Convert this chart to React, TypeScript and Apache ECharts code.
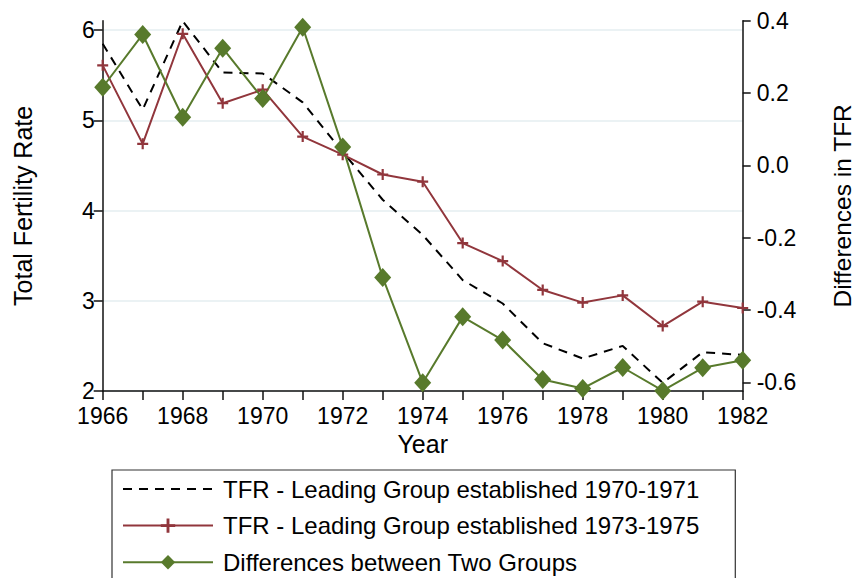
import React, { useEffect, useRef } from "react";
import * as echarts from "echarts";

const years = [1966, 1967, 1968, 1969, 1970, 1971, 1972, 1973, 1974, 1975, 1976, 1977, 1978, 1979, 1980, 1981, 1982];
const tfrEarly = [5.85, 5.12, 6.1, 5.53, 5.52, 5.2, 4.65, 4.12, 3.73, 3.23, 2.97, 2.53, 2.36, 2.5, 2.09, 2.43, 2.4];
const tfrLate = [5.61, 4.74, 5.96, 5.19, 5.34, 4.82, 4.62, 4.4, 4.32, 3.64, 3.44, 3.12, 2.98, 3.06, 2.72, 2.99, 2.92];
const diffs = [0.216, 0.362, 0.133, 0.324, 0.185, 0.382, 0.051, -0.31, -0.601, -0.419, -0.483, -0.592, -0.617, -0.559, -0.623, -0.56, -0.539];
const leftTicks = [2, 3, 4, 5, 6];
const rightTicks = [-0.6, -0.4, -0.2, 0, 0.2, 0.4];
const xLabelYears = [1966, 1968, 1970, 1972, 1974, 1976, 1978, 1980, 1982];
const names = [
  "TFR - Leading Group established 1970-1971",
  "TFR - Leading Group established 1973-1975",
  "Differences between Two Groups",
];

const FONT = "'Liberation Sans', Arial, Helvetica, sans-serif";
const RED = "#91363c";
const GREEN = "#587a2c";
const PLUS = "path://M4,0H6V10H4Z M0,4H10V6H0Z";

export default function App() {
  const ref = useRef<HTMLDivElement>(null);
  useEffect(() => {
    if (!ref.current) return;
    const chart = echarts.init(ref.current, null, { renderer: "svg" });
    const axisLine = { show: true, onZero: false, lineStyle: { color: "#111", width: 1.5 } };
    const tick = { show: true, length: 9, lineStyle: { color: "#111", width: 1.5 } };
    chart.setOption({
      animation: false,
      backgroundColor: "#fff",
      textStyle: { fontFamily: FONT },
      grid: {
        left: 102.7,
        right: 112.3,
        top: 20.7,
        bottom: 187,
        containLabel: false,
        outerBoundsMode: "none",
      },
      xAxis: {
        type: "value",
        min: 1966,
        max: 1982,
        interval: 1,
        name: "Year",
        nameLocation: "middle",
        nameGap: 40,
        nameTextStyle: { fontSize: 25, color: "#000", fontFamily: FONT },
        axisLine,
        axisTick: tick,
        axisLabel: {
          customValues: xLabelYears,
          fontSize: 23,
          color: "#000",
          fontFamily: FONT,
          margin: 13,
          formatter: (v: number) => String(v),
        },
        splitLine: { show: false },
      },
      yAxis: [
        {
          type: "value",
          position: "left",
          min: 2,
          max: 6.105,
          name: "Total Fertility Rate",
          nameLocation: "middle",
          nameRotate: 90,
          nameGap: 67,
          nameTextStyle: { fontSize: 25, color: "#000", fontFamily: FONT },
          axisLine,
          axisTick: { ...tick, customValues: leftTicks },
          axisLabel: {
            customValues: leftTicks,
            fontSize: 23,
            color: "#000",
            fontFamily: FONT,
            margin: 8,
            formatter: (v: number) => String(v),
          },
          splitLine: { show: true, lineStyle: { color: "#e5eef1", width: 1.5 } },
        },
        {
          type: "value",
          position: "right",
          min: -0.624,
          max: 0.4,
          name: "Differences in TFR",
          nameLocation: "middle",
          nameRotate: 90,
          nameGap: 87,
          nameTextStyle: { fontSize: 24.5, color: "#000", fontFamily: FONT },
          axisLine,
          axisTick: { ...tick, length: 8, customValues: rightTicks },
          axisLabel: {
            customValues: rightTicks,
            fontSize: 23,
            color: "#000",
            fontFamily: FONT,
            margin: 14,
            formatter: (v: number) => v.toFixed(1),
          },
          splitLine: { show: false },
        },
      ],
      legend: {
        type: "plain",
        orient: "vertical",
        left: 112,
        top: 470,
        height: 300,
        padding: [7, 36, 40, 10],
        itemWidth: 90,
        itemHeight: 18,
        itemGap: 12.6,
        borderColor: "#333",
        borderWidth: 1.2,
        textStyle: { fontSize: 24, color: "#000", fontFamily: FONT, padding: [0, 0, 0, 5] },
        data: [
          { name: names[0], itemStyle: { opacity: 0 } },
          { name: names[1] },
          { name: names[2] },
        ],
      },
      series: [
        {
          name: names[0],
          type: "line",
          yAxisIndex: 0,
          data: years.map((y, i) => [y, tfrEarly[i]]),
          symbol: "none",
          lineStyle: { color: "#000", width: 2, type: [9, 7] },
          itemStyle: { color: "#000" },
        },
        {
          name: names[1],
          type: "line",
          yAxisIndex: 0,
          data: years.map((y, i) => [y, tfrLate[i]]),
          symbol: PLUS,
          symbolSize: 11,
          lineStyle: { color: RED, width: 2 },
          itemStyle: { color: RED },
        },
        {
          name: names[2],
          type: "line",
          yAxisIndex: 1,
          clip: false,
          data: years.map((y, i) => [y, diffs[i]]),
          symbol: "diamond",
          symbolSize: [17, 19],
          lineStyle: { color: GREEN, width: 2 },
          itemStyle: { color: GREEN },
        },
      ],
    });
    return () => chart.dispose();
  }, []);
  return (
    <div
      ref={ref}
      style={{ position: "fixed", left: 0, top: 0, width: 855, height: 578, background: "#fff" }}
    />
  );
}
